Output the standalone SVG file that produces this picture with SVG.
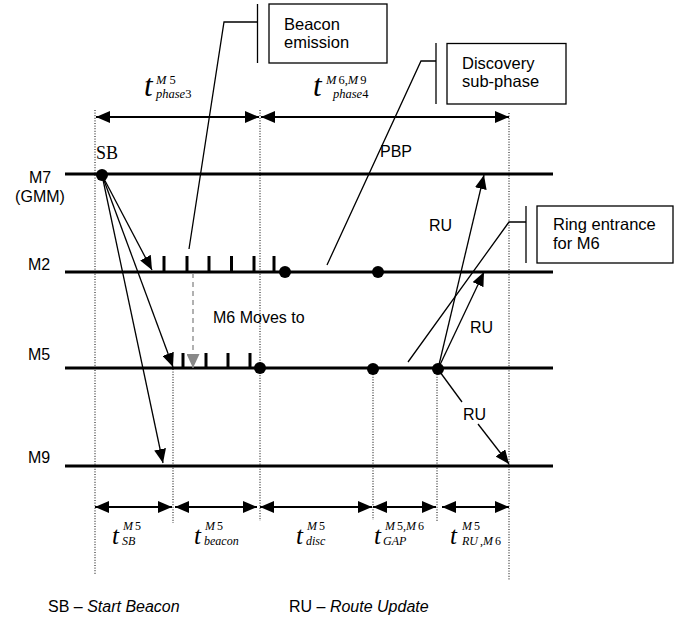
<svg xmlns="http://www.w3.org/2000/svg" width="680" height="624" viewBox="0 0 680 624">
<defs>
<style>
.life{stroke:#000;stroke-width:3.2;fill:none}
.dot{stroke:#000;stroke-width:1;stroke-dasharray:1 1.6;fill:none}
.thin{stroke:#000;stroke-width:1.3;fill:none}
.dim{stroke:#000;stroke-width:1.8;fill:none}
.tick{stroke:#000;stroke-width:3;fill:none}
.box{stroke:#000;stroke-width:1.3;fill:#fff}
.lbl{font-family:"Liberation Sans",Arial,sans-serif;font-size:16px;fill:#000}
.call{font-family:"Liberation Sans",Arial,sans-serif;font-size:16.5px;fill:#000}
.mt{font-family:"Liberation Serif","Times New Roman",serif;font-style:italic;fill:#000}
.mr{font-style:normal}
</style>
<marker id="ah" viewBox="0 0 14 12" refX="14" refY="6" markerWidth="14" markerHeight="12" markerUnits="userSpaceOnUse" orient="auto-start-reverse"><path d="M0,0 L14,6 L0,12 z" fill="#000"/></marker>
<marker id="ahg" viewBox="0 0 14 13" refX="14" refY="6.5" markerWidth="14" markerHeight="13" markerUnits="userSpaceOnUse" orient="auto"><path d="M0,0 L14,6.5 L0,13 z" fill="#888"/></marker>
</defs>
<rect width="680" height="624" fill="#fff"/>

<g id="guides">
<line class="dot" x1="95" y1="110" x2="95" y2="575"/>
<line class="dot" x1="260" y1="110" x2="260" y2="521"/>
<line class="dot" x1="509" y1="113" x2="509" y2="580"/>
<line class="dot" x1="173" y1="369" x2="173" y2="523"/>
<line class="dot" x1="373" y1="369" x2="373" y2="520"/>
<line class="dot" x1="437" y1="369" x2="437" y2="522"/>
</g>

<g id="lifeline-M7">
<line class="life" x1="65" y1="174" x2="553" y2="174"/>
<text class="lbl" x="40" y="183" text-anchor="middle">M7</text>
<text class="lbl" x="40" y="201.5" text-anchor="middle">(GMM)</text>
</g>
<g id="lifeline-M2">
<line class="life" x1="65" y1="272" x2="553" y2="272"/>
<text class="lbl" x="39" y="270" text-anchor="middle">M2</text>
</g>
<g id="lifeline-M5">
<line class="life" x1="65" y1="368" x2="553" y2="368"/>
<text class="lbl" x="39" y="360" text-anchor="middle">M5</text>
</g>
<g id="lifeline-M9">
<line class="life" x1="65" y1="466" x2="553" y2="466"/>
<text class="lbl" x="39" y="463" text-anchor="middle">M9</text>
</g>

<g id="beacons">
<line class="tick" x1="164" y1="256" x2="164" y2="272"/>
<line class="tick" x1="187" y1="256" x2="187" y2="272"/>
<line class="tick" x1="209" y1="256" x2="209" y2="272"/>
<line class="tick" x1="231.5" y1="256" x2="231.5" y2="272"/>
<line class="tick" x1="254" y1="256" x2="254" y2="272"/>
<line class="tick" x1="274" y1="256" x2="274" y2="272"/>
<line class="tick" x1="183" y1="353" x2="183" y2="368"/>
<line class="tick" x1="206" y1="353" x2="206" y2="368"/>
<line class="tick" x1="228" y1="353" x2="228" y2="368"/>
<line class="tick" x1="250" y1="353" x2="250" y2="368"/>
</g>

<g id="events">
<circle cx="102" cy="175" r="6"/>
<circle cx="285" cy="272" r="6"/>
<circle cx="378" cy="272" r="6"/>
<circle cx="260" cy="368" r="6"/>
<circle cx="373" cy="369" r="6"/>
<circle cx="438" cy="369" r="6"/>
<text class="mt mr" x="96" y="159" font-size="18">SB</text>
</g>

<g id="connectors">
<line class="thin" x1="102" y1="175" x2="152" y2="270" marker-end="url(#ah)"/>
<line class="thin" x1="102" y1="175" x2="173" y2="367" marker-end="url(#ah)"/>
<line class="thin" x1="102" y1="175" x2="163" y2="463" marker-end="url(#ah)"/>
<line x1="193" y1="273" x2="193" y2="368" stroke="#888" stroke-width="1.3" stroke-dasharray="5 4" marker-end="url(#ahg)"/>
<line class="thin" x1="438" y1="369" x2="484" y2="175" marker-end="url(#ah)"/>
<line class="thin" x1="438" y1="369" x2="484" y2="272" marker-end="url(#ah)"/>
<line class="thin" x1="440" y1="372" x2="462" y2="402"/>
<line class="thin" x1="478" y1="424" x2="509" y2="464" marker-end="url(#ah)"/>
<line class="dim" x1="96" y1="117" x2="259" y2="117" marker-start="url(#ah)" marker-end="url(#ah)"/>
<line class="dim" x1="261" y1="117" x2="509" y2="117" marker-start="url(#ah)" marker-end="url(#ah)"/>
<line class="dim" x1="95" y1="507" x2="172" y2="507" marker-start="url(#ah)" marker-end="url(#ah)"/>
<line class="dim" x1="175" y1="507" x2="257" y2="507" marker-start="url(#ah)" marker-end="url(#ah)"/>
<line class="dim" x1="260" y1="507" x2="372" y2="507" marker-start="url(#ah)" marker-end="url(#ah)"/>
<line class="dim" x1="373" y1="507" x2="436" y2="507" marker-start="url(#ah)" marker-end="url(#ah)"/>
<line class="dim" x1="442" y1="507" x2="509" y2="507" marker-start="url(#ah)" marker-end="url(#ah)"/>
</g>

<g id="labels">
<text class="lbl" x="213" y="323" font-size="17">M6 Moves to</text>
<text class="lbl" x="380" y="157">PBP</text>
<text class="lbl" x="429" y="231">RU</text>
<text class="lbl" x="470" y="333">RU</text>
<text class="lbl" x="463" y="420">RU</text>
</g>

<g id="callout-beacon">
<polyline class="thin" points="257,22 224,22 189,249"/>
<line class="thin" x1="257.5" y1="4" x2="257.5" y2="63"/>
<rect class="box" x="269" y="4" width="118" height="59"/>
<text class="call" x="284" y="29.5">Beacon</text>
<text class="call" x="284" y="48">emission</text>
</g>
<g id="callout-discovery">
<polyline class="thin" points="436,61 421,61 327,265"/>
<line class="thin" x1="436" y1="43" x2="436" y2="104"/>
<rect class="box" x="447" y="43.5" width="119" height="60.5"/>
<text class="call" x="462" y="68.5">Discovery</text>
<text class="call" x="462" y="87">sub-phase</text>
</g>
<g id="callout-ring">
<polyline class="thin" points="526,222 509,222 408,362"/>
<line class="thin" x1="526" y1="206" x2="526" y2="263"/>
<rect class="box" x="537" y="206" width="136" height="57"/>
<text class="call" x="553" y="230">Ring entrance</text>
<text class="call" x="553" y="249">for M6</text>
</g>

<g id="time-labels">
<text class="mt" x="144" y="96" font-size="31">t</text>
<text class="mt" x="156" y="84" font-size="12.5">M<tspan class="mr" dx="3">5</tspan></text>
<text class="mt" x="156" y="98" font-size="12.5">phase<tspan class="mr">3</tspan></text>

<text class="mt" x="313" y="96" font-size="31">t</text>
<text class="mt" x="326" y="84" font-size="12.5">M<tspan class="mr" dx="2">6,</tspan>M<tspan class="mr" dx="2">9</tspan></text>
<text class="mt" x="333" y="98" font-size="12.5">phase<tspan class="mr">4</tspan></text>

<text class="mt" x="112" y="544" font-size="25">t</text>
<text class="mt" x="123" y="529.5" font-size="12">M<tspan class="mr" dx="2">5</tspan></text>
<text class="mt" x="122" y="545" font-size="12">SB</text>

<text class="mt" x="194" y="544" font-size="25">t</text>
<text class="mt" x="205" y="529.5" font-size="12">M<tspan class="mr" dx="2">5</tspan></text>
<text class="mt" x="204" y="545" font-size="12">beacon</text>

<text class="mt" x="296" y="544" font-size="25">t</text>
<text class="mt" x="307" y="529.5" font-size="12">M<tspan class="mr" dx="2">5</tspan></text>
<text class="mt" x="306" y="545" font-size="12">disc</text>

<text class="mt" x="374" y="544" font-size="25">t</text>
<text class="mt" x="385" y="529.5" font-size="12">M<tspan class="mr" dx="2">5,</tspan>M<tspan class="mr" dx="2">6</tspan></text>
<text class="mt" x="383" y="545" font-size="12">GAP</text>

<text class="mt" x="450" y="544" font-size="25">t</text>
<text class="mt" x="462" y="529.5" font-size="12">M<tspan class="mr" dx="2">5</tspan></text>
<text class="mt" x="462" y="545" font-size="12">RU<tspan class="mr" dx="2">,</tspan>M<tspan class="mr" dx="2">6</tspan></text>
</g>

<g id="legend">
<text class="lbl" x="48" y="612">SB – <tspan font-style="italic">Start Beacon</tspan></text>
<text class="lbl" x="289" y="612">RU – <tspan font-style="italic">Route Update</tspan></text>
</g>
</svg>
